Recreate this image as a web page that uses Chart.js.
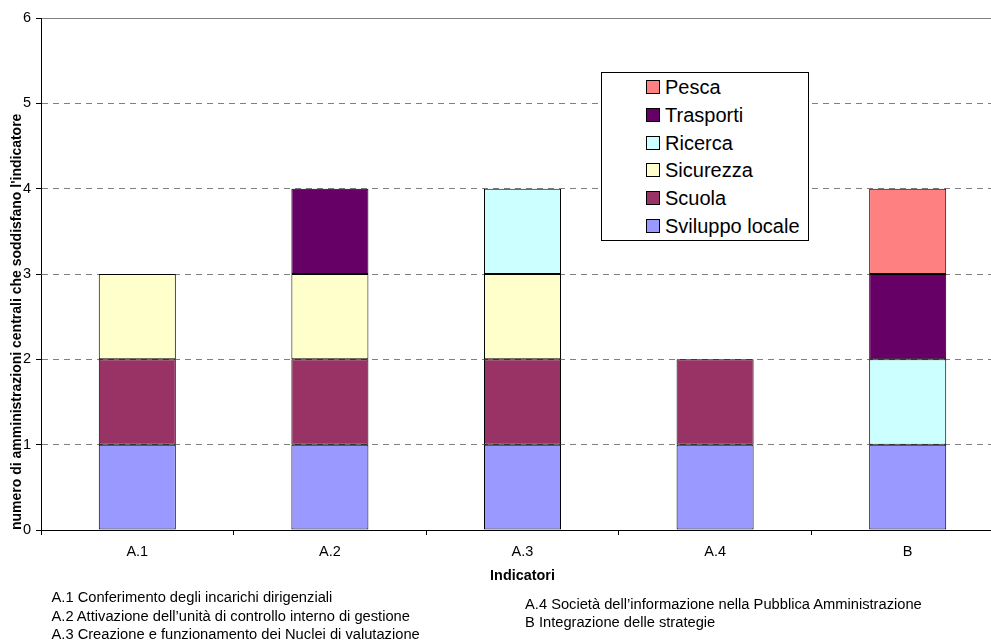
<!DOCTYPE html>
<html>
<head>
<meta charset="utf-8">
<script src="https://cdn.jsdelivr.net/npm/chart.js@4/dist/chart.umd.min.js"></script>
<style>
  html, body { margin: 0; padding: 0; width: 991px; height: 641px; overflow: hidden; background: #fff; }
  #wrap { position: absolute; left: 0; top: 0; width: 1010px; height: 641px; }
  .note { position: absolute; font-family: "Liberation Sans", Arial, sans-serif; font-size: 14.7px; line-height: 18.5px; color: #000; white-space: nowrap; }
  #legend { position: absolute; left: 601px; top: 72px; width: 206px; height: 167px; border: 1px solid #000; background: #fff; }
  .lrow { position: absolute; left: 44px; height: 24px; display: flex; align-items: center; font-family: "Liberation Sans", Arial, sans-serif; font-size: 20px; line-height: 24px; color: #000; white-space: nowrap; }
  .sw { width: 12px; height: 12px; border: 1px solid #000; margin-right: 5px; flex: none; }
</style>
</head>
<body>
<div id="wrap"><canvas id="c" width="1010" height="641"></canvas></div>
<div id="legend"></div>
<div class="note" style="left:51.5px; top:588px;">A.1 Conferimento degli incarichi dirigenziali<br>A.2 Attivazione dell’unità di controllo interno di gestione<br>A.3 Creazione e funzionamento dei Nuclei di valutazione</div>
<div class="note" style="left:525px; top:594.5px;">A.4 Società dell’informazione nella Pubblica Amministrazione<br>B Integrazione delle strategie</div>
<script>
const categories = ['A.1', 'A.2', 'A.3', 'A.4', 'B'];
const svilupppoLocale = [1, 1, 1, 1, 1];
const scuola = [1, 1, 1, 1, 0];
const sicurezza = [1, 1, 1, 0, 0];
const ricerca = [0, 0, 1, 0, 1];
const trasporti = [0, 1, 0, 0, 1];
const pesca = [0, 0, 0, 0, 1];
const yTicks = [0, 1, 2, 3, 4, 5, 6];

const seriesNames = ['Sviluppo locale', 'Scuola', 'Sicurezza', 'Ricerca', 'Trasporti', 'Pesca'];
const seriesValues = [svilupppoLocale, scuola, sicurezza, ricerca, trasporti, pesca];
const seriesColors = ['#9999FF', '#993366', '#FFFFCC', '#CCFFFF', '#660066', '#FF8080'];

const FONT = '"Liberation Sans", Arial, sans-serif';

const datasets = seriesNames.map((name, i) => ({
  label: name,
  data: seriesValues[i].map(v => v === 0 ? null : v),
  backgroundColor: seriesColors[i],
  borderColor: '#000',
  borderWidth: 1,
  borderSkipped: false,
  barPercentage: 1.0,
  categoryPercentage: 0.4
}));

const chart = new Chart(document.getElementById('c'), {
  type: 'bar',
  data: { labels: categories, datasets: datasets },
  options: {
    responsive: false,
    animation: false,
    layout: { padding: { left: 0, top: 18, right: 6, bottom: 51 } },
    plugins: { legend: { display: false }, tooltip: { enabled: false } },
    scales: {
      x: {
        stacked: true,
        grid: { offset: true, drawOnChartArea: false, tickLength: 5, tickColor: '#000' },
        border: { color: '#000', width: 1 },
        ticks: { color: '#000', font: { family: FONT, size: 14.5 }, padding: 8, maxRotation: 0 },
        title: { display: true, text: 'Indicatori', color: '#000', font: { family: FONT, size: 14.4, weight: 'bold' }, padding: { top: 0, bottom: 5 } },
        afterFit: s => { s.height = 60; }
      },
      y: {
        stacked: true,
        min: 0, max: 6,
        afterBuildTicks: s => { s.ticks = yTicks.map(v => ({ value: v })); },
        grid: {
          color: c => (c.tick && c.tick.value === 0) ? 'rgba(0,0,0,0)' : '#808080',
          tickColor: '#000', tickLength: 5, lineWidth: 1
        },
        border: { color: '#000', width: 1, dash: c => (c.tick && c.tick.value === 6) ? [] : [6, 5] },
        ticks: { color: '#000', font: { family: FONT, size: 14.5 }, padding: 5 },
        title: { display: true, align: 'start', text: "numero di amministrazioni centrali che soddisfano l'indicatore", color: '#000', font: { family: FONT, size: 14, weight: 'bold', lineHeight: 1.2 }, padding: { top: 9, bottom: 0 } },
        afterFit: s => { s.width = 41; }
      }
    }
  }
});

// HTML legend built from the chart datasets (reverse order like the reference)
const leg = document.getElementById('legend');
chart.data.datasets.slice().reverse().forEach((ds, i) => {
  const row = document.createElement('div');
  row.className = 'lrow';
  row.style.top = (2 + i * 27.8) + 'px';
  const sw = document.createElement('span');
  sw.className = 'sw';
  sw.style.background = ds.backgroundColor;
  const t = document.createElement('span');
  t.textContent = ds.label;
  row.appendChild(sw); row.appendChild(t);
  leg.appendChild(row);
});
</script>
</body>
</html>
